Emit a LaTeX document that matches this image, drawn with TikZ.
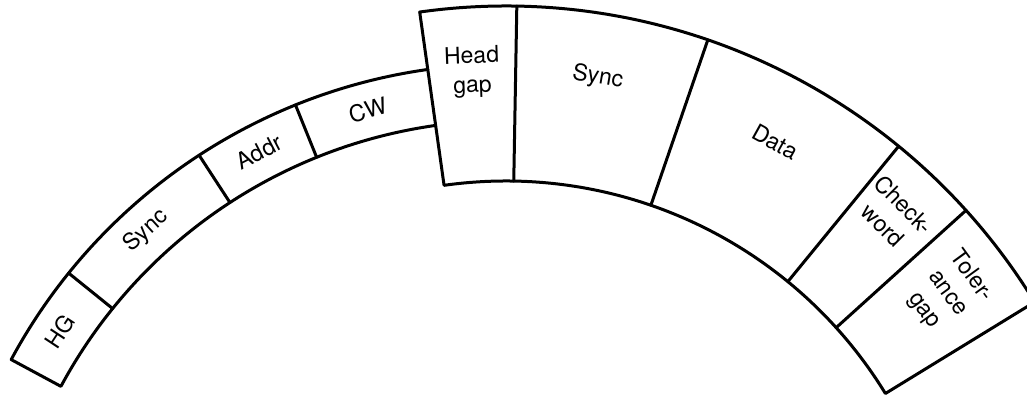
\documentclass[tikz,border=0pt]{standalone}
\usepackage{fontspec}
\setmainfont{TeX Gyre Heros}
\begin{document}
\begin{tikzpicture}[x=1pt,y=1pt,
  band/.style={line width=3pt, line join=round, line cap=round},
  lbl/.style={font=\fontsize{23}{29}\selectfont, align=center, inner sep=0pt}]
\useasboundingbox (-506,230) rectangle (521,626);
\begin{scope}
\clip (-506,230) rectangle (521,626);
% left band (header)
\draw[band] (98:562pt) arc[start angle=98, end angle=151.7, radius=562pt]
  -- (151.7:505.5pt) arc[start angle=151.7, end angle=98, radius=505.5pt];
\draw[band] (141.1:505.5pt) -- (141.1:562pt);
\draw[band] (123.1:505.5pt) -- (123.1:562pt);
\draw[band] (112:505.5pt) -- (112:562pt);
% right band (record)
\draw[band] (98:620pt) arc[start angle=98, end angle=31.5, radius=620pt]
  -- (31.5:445pt) arc[start angle=31.5, end angle=98, radius=445pt] -- cycle;
\draw[band] (89:445pt) -- (89:620pt);
\draw[band] (71:445pt) -- (71:620pt);
\draw[band] (50.7:445pt) -- (50.7:620pt);
\draw[band] (42.1:445pt) -- (42.1:620pt);
\end{scope}
% labels
\node[lbl, rotate=56.6] (hg) at (146.6:534.5pt) {HG};
\node[lbl, rotate=42.3] (sync1) at (132.3:534.5pt) {Sync};
\node[lbl, rotate=27.5] (addr) at (117.5:534.5pt) {Addr};
\node[lbl, rotate=15] (cw) at (105:534pt) {CW};
\node[lbl, rotate=2] (hgap) at (93.5:555pt) {Head\\gap};
\node[lbl, rotate=-9.5] (sync2) at (80.5:556pt) {Sync};
\node[lbl, rotate=-29] (data) at (60.9:554pt) {Data};
\node[lbl, rotate=-45] (chk) at (46.7:565pt) {Check-\\word};
\node[lbl, rotate=-54] (tol) at (37:553pt) {Toler-\\ance\\gap};
\end{tikzpicture}
\end{document}
